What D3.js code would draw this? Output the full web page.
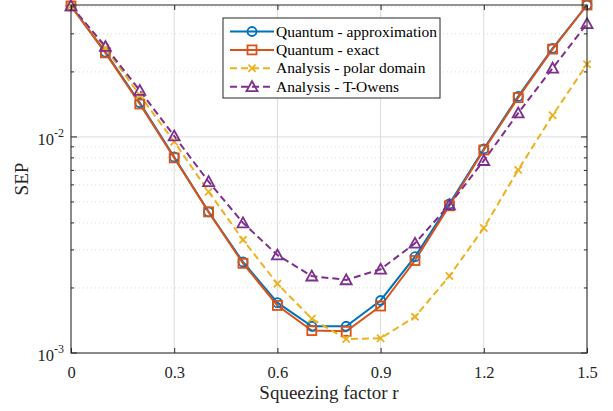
<!DOCTYPE html>
<html>
<head>
<meta charset="utf-8">
<script src="https://cdn.jsdelivr.net/npm/d3@7"></script>
<style>
  body { margin: 0; background: #fff; }
  svg text { font-family: "Liberation Serif", serif; }
</style>
</head>
<body>
<div id="chart"></div>
<script>
// squeezing factor r
const rValues = [0, 0.1, 0.2, 0.3, 0.4, 0.5, 0.6, 0.7, 0.8, 0.9, 1.0, 1.1, 1.2, 1.3, 1.4, 1.5];

// SEP values
const quantumApprox = [0.0404, 0.0247, 0.0144, 0.00808, 0.0045, 0.00264, 0.00171, 0.00133, 0.00133, 0.00175, 0.00279, 0.0049, 0.0088, 0.0154, 0.0257, 0.0408];
const quantumExact  = [0.0404, 0.0245, 0.0142, 0.0080, 0.0045, 0.0026, 0.00166, 0.00127, 0.00126, 0.00165, 0.00268, 0.0048, 0.0087, 0.0152, 0.0255, 0.0408];
const polarDomain   = [0.0404, 0.0258, 0.0156, 0.0095, 0.00558, 0.00334, 0.00209, 0.00144, 0.00116, 0.00117, 0.00147, 0.00227, 0.00379, 0.00704, 0.0126, 0.0217];
const tOwens        = [0.0404, 0.0262, 0.0164, 0.0101, 0.00621, 0.0040, 0.00284, 0.00227, 0.00218, 0.00244, 0.00322, 0.00485, 0.00777, 0.0129, 0.0208, 0.0334];

const xTicks = [0, 0.3, 0.6, 0.9, 1.2, 1.5];
const yDecades = [1e-3, 1e-2];

const seriesList = [
  {name: 'Quantum - approximation', values: quantumApprox, color: '#0072BD', dash: null, marker: 'circle'},
  {name: 'Quantum - exact', values: quantumExact, color: '#D95319', dash: null, marker: 'square'},
  {name: 'Analysis - polar domain', values: polarDomain, color: '#EDB120', dash: '7,4', marker: 'cross'},
  {name: 'Analysis - T-Owens', values: tOwens, color: '#7E2F8E', dash: '7,4', marker: 'triangle'}
];

const width = 613, height = 411;
const margin = {top: 5, right: 26, bottom: 58, left: 71};
const innerW = width - margin.left - margin.right;
const innerH = height - margin.top - margin.bottom;
const serif = 'Liberation Serif';

const svg = d3.select('#chart').append('svg')
    .attr('width', width)
    .attr('height', height);

const chart = svg.append('g')
    .attr('transform', `translate(${margin.left},${margin.top})`);

const xScale = d3.scaleLinear().domain([0, 1.5]).range([0, innerW]);
const yScale = d3.scaleLog().domain([1e-3, 0.0408]).range([innerH, 0]);

// minor log positions inside the domain
const minorTicks = [];
[1e-3, 1e-2].forEach(dec => {
  for (let k = 2; k <= 9; k++) {
    const v = k * dec;
    if (v < yScale.domain()[1]) minorTicks.push(v);
  }
});

const gridColor = '#dcdcdc';

// minor grid
chart.selectAll('.minor-grid')
    .data(minorTicks)
  .join('line')
    .attr('class', 'minor-grid')
    .attr('x1', 0).attr('x2', innerW)
    .attr('y1', d => yScale(d)).attr('y2', d => yScale(d))
    .attr('stroke', '#cfcfcf')
    .attr('stroke-width', 0.8)
    .attr('stroke-dasharray', '1,3');

// major grid
chart.selectAll('.x-grid')
    .data(xTicks)
  .join('line')
    .attr('class', 'x-grid')
    .attr('x1', d => xScale(d)).attr('x2', d => xScale(d))
    .attr('y1', 0).attr('y2', innerH)
    .attr('stroke', gridColor).attr('stroke-width', 1);

chart.selectAll('.y-grid')
    .data(yDecades)
  .join('line')
    .attr('class', 'y-grid')
    .attr('x1', 0).attr('x2', innerW)
    .attr('y1', d => yScale(d)).attr('y2', d => yScale(d))
    .attr('stroke', gridColor).attr('stroke-width', 1);

// series
const line = d3.line()
    .x((d, i) => xScale(rValues[i]))
    .y(d => yScale(d));

seriesList.forEach(s => {
  chart.append('path')
      .datum(s.values)
      .attr('fill', 'none')
      .attr('stroke', s.color)
      .attr('stroke-width', 2)
      .attr('stroke-dasharray', s.dash)
      .attr('d', line);
});

function drawMarker(g, type, x, y, color) {
  if (type === 'circle') {
    g.append('circle').attr('cx', x).attr('cy', y).attr('r', 4.5)
        .attr('fill', 'none').attr('stroke', color).attr('stroke-width', 1.8);
  } else if (type === 'square') {
    g.append('rect').attr('x', x - 4.5).attr('y', y - 4.5).attr('width', 9).attr('height', 9)
        .attr('fill', 'none').attr('stroke', color).attr('stroke-width', 1.8);
  } else if (type === 'cross') {
    const s = 3.6;
    g.append('path').attr('d', `M${x - s},${y - s}L${x + s},${y + s}M${x - s},${y + s}L${x + s},${y - s}`)
        .attr('stroke', color).attr('stroke-width', 1.8);
  } else if (type === 'triangle') {
    const s = 5.5;
    g.append('path').attr('d', `M${x},${y - s}L${x + s},${y + s * 0.8}L${x - s},${y + s * 0.8}Z`)
        .attr('fill', 'none').attr('stroke', color).attr('stroke-width', 1.8);
  }
}

seriesList.forEach(s => {
  const g = chart.append('g');
  s.values.forEach((v, i) => drawMarker(g, s.marker, xScale(rValues[i]), yScale(v), s.color));
});

// axes box
const axisColor = '#262626';
chart.append('rect')
    .attr('width', innerW).attr('height', innerH)
    .attr('fill', 'none').attr('stroke', axisColor).attr('stroke-width', 1);

// x ticks (bottom and top, inward)
const xAxis = d3.axisBottom(xScale).tickValues(xTicks).tickSize(-5).tickPadding(13)
    .tickFormat(d => d === 0 ? '0' : d3.format('.1f')(d));
const xAxisG = chart.append('g').attr('transform', `translate(0,${innerH})`).call(xAxis);
xAxisG.attr('font-family', serif).attr('font-size', 16.5);
xAxisG.select('.domain').remove();
xAxisG.selectAll('line').attr('stroke', axisColor);
xAxisG.selectAll('text').attr('fill', axisColor);

const xTopG = chart.append('g').call(d3.axisTop(xScale).tickValues(xTicks).tickSize(-5).tickFormat(''));
xTopG.select('.domain').remove();
xTopG.selectAll('line').attr('stroke', axisColor);

// y ticks left and right
[[0, 1], [innerW, -1]].forEach(([x0, dir]) => {
  chart.selectAll(null).data(yDecades).join('line')
      .attr('x1', x0).attr('x2', x0 + dir * 6)
      .attr('y1', d => yScale(d)).attr('y2', d => yScale(d))
      .attr('stroke', axisColor);
  chart.selectAll(null).data(minorTicks).join('line')
      .attr('x1', x0).attr('x2', x0 + dir * 3)
      .attr('y1', d => yScale(d)).attr('y2', d => yScale(d))
      .attr('stroke', axisColor);
});

// y tick labels 10^n
const yLabels = chart.selectAll('.ylab').data(yDecades).join('text')
    .attr('class', 'ylab')
    .attr('x', -7)
    .attr('y', d => yScale(d) + 8)
    .attr('text-anchor', 'end')
    .attr('fill', axisColor)
    .attr('font-family', serif)
    .attr('font-size', 16.5);
yLabels.append('tspan').text('10');
yLabels.append('tspan').attr('dy', -8).attr('font-size', 12).text(d => Math.round(Math.log10(d)));

// axis titles
svg.append('text')
    .attr('x', margin.left + innerW / 2)
    .attr('y', 399)
    .attr('text-anchor', 'middle')
    .attr('fill', axisColor)
    .attr('font-family', serif)
    .attr('font-size', 19)
    .text('Squeezing factor r');

svg.append('text')
    .attr('transform', `translate(28,${margin.top + innerH / 2}) rotate(-90)`)
    .attr('text-anchor', 'middle')
    .attr('fill', axisColor)
    .attr('font-family', serif)
    .attr('font-size', 19)
    .text('SEP');

// legend
const legend = svg.append('g').attr('transform', 'translate(223,18)');
legend.append('rect')
    .attr('width', 217).attr('height', 80)
    .attr('fill', '#fff').attr('stroke', axisColor).attr('stroke-width', 1);

seriesList.forEach((s, i) => {
  const y = 13.5 + i * 18.4;
  const row = legend.append('g');
  row.append('line')
      .attr('x1', 7).attr('x2', 51).attr('y1', y).attr('y2', y)
      .attr('stroke', s.color).attr('stroke-width', 2)
      .attr('stroke-dasharray', s.dash);
  drawMarker(row, s.marker, 29, y, s.color);
  row.append('text')
      .attr('x', 53).attr('y', y + 5)
      .attr('fill', '#000')
      .attr('font-family', serif)
      .attr('font-size', 15.5)
      .text(s.name);
});
</script>
</body>
</html>
